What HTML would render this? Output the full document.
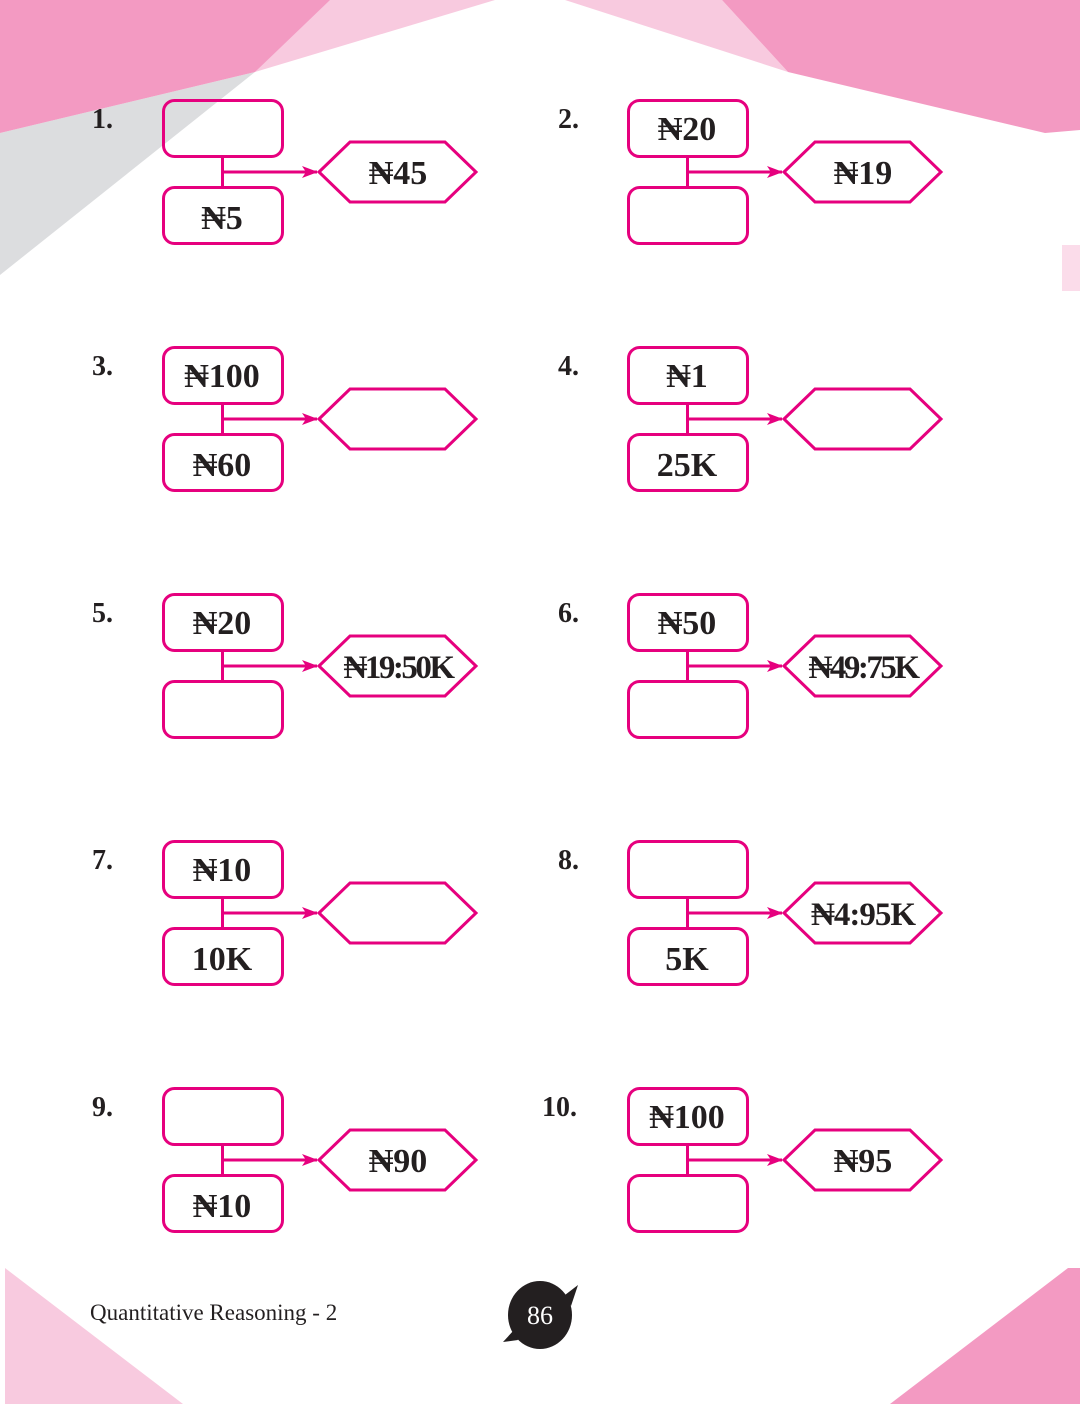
<!DOCTYPE html>
<html><head><meta charset="utf-8"><style>
html,body{margin:0;padding:0;background:#fff}
svg{display:block}
text{font-family:"Liberation Serif","DejaVu Serif",serif}
.t{font-weight:bold;font-size:34px;fill:#231f20;text-anchor:middle}
.n{font-weight:bold;font-size:28px;fill:#231f20}
</style></head><body>
<svg width="1080" height="1404" viewBox="0 0 1080 1404" xmlns="http://www.w3.org/2000/svg">
<defs>
<marker id="a" markerWidth="16" markerHeight="12" refX="15" refY="6" orient="auto" markerUnits="userSpaceOnUse">
<path d="M0,0 L16,6 L0,12 L4,6 Z" fill="#e6007e"/></marker>
<g id="d">
<rect x="163.5" y="100.5" width="119" height="56" rx="11" fill="none" stroke="#e6007e" stroke-width="3"/>
<rect x="163.5" y="187.5" width="119" height="56" rx="11" fill="none" stroke="#e6007e" stroke-width="3"/>
<line x1="222.5" y1="157" x2="222.5" y2="187" stroke="#e6007e" stroke-width="3"/>
<line x1="222" y1="172" x2="317" y2="172" stroke="#e6007e" stroke-width="3" marker-end="url(#a)"/>
<polygon points="319,172 350,142 445,142 476,172 445,202 350,202" fill="none" stroke="#e6007e" stroke-width="3"/>
</g>
</defs>
<polygon points="0,133 255,72 0,275" fill="#dcdddf"/>
<polygon points="325,0 495,0 255,72" fill="#f8cadf"/>
<polygon points="0,0 330,0 255,72 0,133" fill="#f39ac2"/>
<polygon points="565,0 722,0 788,72" fill="#f8cadf"/>
<polygon points="722,0 1080,0 1080,130 1045,133 788,72" fill="#f39ac2"/>
<rect x="1062" y="245" width="18" height="46" fill="#fbdcea"/>
<polygon points="5,1268 183,1404 5,1404" fill="#f8cadf"/>
<polygon points="1068,1268 890,1404 1080,1404 1080,1268" fill="#f39ac2"/>

<g><use href="#d"/><text class="n" x="92" y="128">1.</text>
<text class="t" x="222" y="229">₦5</text><text class="t" x="398" y="184">₦45</text></g>
<g transform="translate(465,0)"><use href="#d"/><text class="n" x="93" y="128">2.</text>
<text class="t" x="222" y="140">₦20</text><text class="t" x="398" y="184">₦19</text></g>

<g transform="translate(0,247)"><use href="#d"/><text class="n" x="92" y="128">3.</text>
<text class="t" x="222" y="140">₦100</text><text class="t" x="222" y="229">₦60</text></g>
<g transform="translate(465,247)"><use href="#d"/><text class="n" x="93" y="128">4.</text>
<text class="t" x="222" y="140">₦1</text><text class="t" x="222" y="229">25K</text></g>

<g transform="translate(0,494)"><use href="#d"/><text class="n" x="92" y="128">5.</text>
<text class="t" x="222" y="140">₦20</text><text class="t" x="398" y="184" style="font-size:33px;letter-spacing:-2.5px">₦19:50K</text></g>
<g transform="translate(465,494)"><use href="#d"/><text class="n" x="93" y="128">6.</text>
<text class="t" x="222" y="140">₦50</text><text class="t" x="398" y="184" style="font-size:33px;letter-spacing:-2.5px">₦49:75K</text></g>

<g transform="translate(0,741)"><use href="#d"/><text class="n" x="92" y="128">7.</text>
<text class="t" x="222" y="140">₦10</text><text class="t" x="222" y="229">10K</text></g>
<g transform="translate(465,741)"><use href="#d"/><text class="n" x="93" y="128">8.</text>
<text class="t" x="222" y="229">5K</text><text class="t" x="398" y="184" style="font-size:33px;letter-spacing:-1px">₦4:95K</text></g>

<g transform="translate(0,988)"><use href="#d"/><text class="n" x="92" y="128">9.</text>
<text class="t" x="222" y="229">₦10</text><text class="t" x="398" y="184">₦90</text></g>
<g transform="translate(465,988)"><use href="#d"/><text class="n" x="77" y="128">10.</text>
<text class="t" x="222" y="140">₦100</text><text class="t" x="398" y="184">₦95</text></g>

<text x="90" y="1320" style="font-size:23px;fill:#231f20">Quantitative Reasoning - 2</text>
<ellipse cx="540" cy="1315" rx="32" ry="34" fill="#231f20"/>
<path d="M565,1295 L578,1285 L571,1306 Z" fill="#231f20"/>
<path d="M514,1330 L503,1342 L518,1340 Z" fill="#231f20"/>
<text x="540" y="1324" text-anchor="middle" style="font-size:26px;fill:#fff">86</text>
</svg>
</body></html>
